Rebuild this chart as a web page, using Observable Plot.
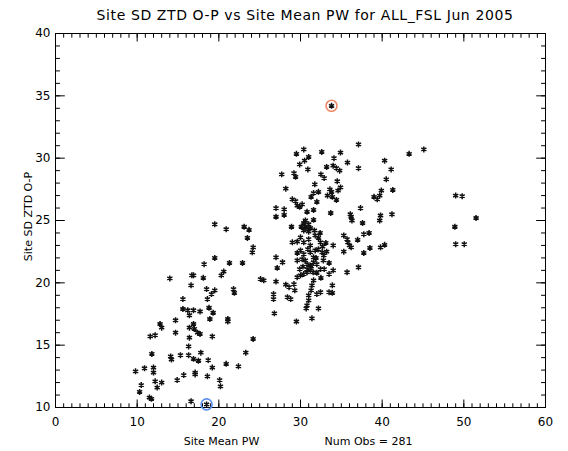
<!DOCTYPE html>
<html><head><meta charset="utf-8">
<script src="https://cdn.jsdelivr.net/npm/d3@7"></script>
<script src="https://cdn.jsdelivr.net/npm/@observablehq/plot@0.6"></script>
<style>
body{margin:0;background:#fff;}
#wrap{width:568px;height:451px;overflow:hidden;}
#title{height:28px;line-height:30px;font-family:"DejaVu Sans",sans-serif;font-size:14px;letter-spacing:0.6px;text-align:center;padding-left:42px;box-sizing:border-box;width:568px;white-space:nowrap;color:#000;}
</style></head>
<body><div id="wrap"><div id="title"></div><div id="chart"></div></div>
<script>
const titleText = "Site SD ZTD O-P vs Site Mean PW for ALL_FSL Jun 2005";
const xLabel = "Site Mean PW";
const yLabel = "Site SD ZTD O-P";
const numObs = 281;
const xTicks = [0, 10, 20, 30, 40, 50, 60];
const yTicks = [10, 15, 20, 25, 30, 35, 40];

// Site Mean PW (x) and Site SD ZTD O-P (y)
const siteMeanPW = [
19.5,20.9,23.1,23.7,23.5,19.5,18.2,21.3,22.9,14.0,16.7,16.9,18.1,20.3,20.6,16.6,18.5,19.5,19.1,21.8,21.9,15.6,18.6,15.6,16.2,16.9,17.7,18.8,19.3,18.9,16.4,14.7,21.1,21.1,12.8,13.0,11.6,12.2,14.7,16.9,16.4,17.0,17.4,17.7,16.4,19.2,24.2,16.3,11.8,14.1,14.2,15.3,16.3,16.9,17.5,17.8,18.7,23.3,9.8,10.9,12.0,12.0,20.9,22.4,17.1,17.1,15.7,14.9,19.2,18.6,12.2,13.0,10.5,10.3,12.45,20.1,20.2,11.5,11.75,16.6,18.5,
33.8,37.1,29.5,30.4,32.6,34.9,31.0,30.5,29.9,34.1,35.75,40.3,34.0,34.4,34.8,33.2,30.9,37.1,41.1,27.7,29.2,29.4,32.5,32.9,34.5,40.5,31.75,28.2,34.9,34.6,33.6,33.8,32.2,31.6,31.3,33.3,33.9,34.4,29.0,39.9,39.7,39.0,39.4,41.3,
43.3,45.1,49.0,49.8,51.5,48.9,49.0,50.05,
29.4,29.6,30.2,29.9,32.0,27.0,28.0,27.0,28.0,30.8,31.6,33.7,37.35,36.1,36.2,36.3,39.8,39.7,41.2,28.9,30.4,30.6,30.9,31.0,30.4,31.6,31.7,37.6,38.4,37.75,29.0,29.6,30.0,30.4,31.0,31.2,32.2,32.45,33.1,32.7,32.2,35.3,35.7,35.8,36.0,36.2,37.0,24.2,24.1,35.3,37.75,38.5,39.8,40.3,30.0,30.4,31.2,31.8,31.6,32.65,32.85,32.8,27.0,27.8,27.15,29.6,30.2,30.6,30.8,31.2,31.6,32.0,32.45,32.9,33.5,34.0,33.5,37.1,35.7,25.1,25.5,27.0,29.6,30.0,30.4,30.8,31.2,31.55,32.0,28.2,28.6,29.2,29.3,31.6,32.5,31.4,31.3,32.0,32.45,33.9,33.5,33.9,26.7,26.7,28.4,28.8,31.0,31.0,30.8,30.7,32.2,26.8,29.5,31.4,
30.6,31.0,31.2,30.1,30.3,30.8,29.9,31.3,31.9,30.9,33.2,34.0,29.6,32.4,31.8
];
const siteSdZtd = [
24.7,24.3,24.5,24.25,23.6,22.0,21.5,21.6,21.6,20.35,20.6,20.6,20.4,20.6,20.9,19.8,19.5,19.4,19.1,19.5,19.2,18.7,18.7,17.9,17.8,17.8,17.7,18.0,17.6,17.1,17.4,17.0,17.1,16.9,16.7,16.4,15.7,15.8,16.0,16.7,16.4,16.3,16.0,15.9,15.6,15.7,15.5,14.9,14.3,14.1,13.85,14.2,14.2,13.9,13.75,14.4,13.8,14.4,12.9,13.15,13.2,12.8,13.5,13.3,12.8,12.65,12.6,12.2,13.2,12.5,12.1,12.0,11.8,11.25,11.6,12.2,11.7,10.8,10.7,10.5,10.25,
34.2,31.1,30.35,30.7,30.5,30.45,30.1,29.8,29.5,30.0,29.65,29.8,29.4,29.2,29.0,29.3,29.1,29.2,29.1,28.7,28.8,28.5,28.7,28.4,28.15,28.3,27.9,27.55,27.65,27.4,27.5,27.3,27.3,27.2,26.9,27.0,26.9,26.65,26.7,27.4,27.0,26.9,26.7,27.45,
30.35,30.7,27.0,26.95,25.2,24.5,23.1,23.1,
26.55,26.2,26.3,26.1,26.5,26.0,25.9,25.3,25.45,25.7,25.85,25.6,26.0,25.5,25.3,25.0,25.4,25.0,25.5,24.5,24.8,24.5,24.3,24.1,24.2,25.05,24.2,24.8,24.0,23.9,23.25,23.3,23.65,23.25,23.5,23.0,23.6,23.25,23.2,22.9,22.7,23.8,23.5,23.25,23.0,22.85,23.45,22.85,22.45,22.5,22.4,22.8,22.85,23.05,22.6,22.3,22.45,22.6,22.05,22.45,22.2,21.8,22.05,21.65,21.2,21.8,21.9,21.8,21.5,21.4,21.65,21.5,21.1,21.1,21.6,21.0,20.7,21.25,20.85,20.3,20.2,20.1,20.45,20.6,20.7,20.85,21.0,20.85,20.8,19.85,19.65,19.9,19.4,20.2,20.4,19.8,19.4,19.1,19.25,19.8,19.25,19.2,19.1,18.7,18.85,18.7,19.0,18.6,18.2,17.95,17.95,17.55,16.9,17.15,
25.0,24.7,24.4,24.5,21.3,21.1,21.1,21.3,22.0,22.7,22.5,23.0,22.4,24.0,23.8
];
// highlighted sites (max and min)
const maxSiteX = [33.8], maxSiteY = [34.2];
const minSiteX = [18.5], minSiteY = [10.25];

const points = siteMeanPW.map((x, i) => ({x, y: siteSdZtd[i]}));
const maxPts = maxSiteX.map((x, i) => ({x, y: maxSiteY[i]}));
const minPts = minSiteX.map((x, i) => ({x, y: minSiteY[i]}));

document.getElementById("title").textContent = titleText;

const blank = () => "";
const chart = Plot.plot({
  width: 568, height: 423,
  marginTop: 5, marginBottom: 44, marginLeft: 55, marginRight: 23,
  x: {domain: [0, 60]},
  y: {domain: [10, 40]},
  style: {fontFamily: "DejaVu Sans, sans-serif", fontSize: "12px", background: "white", color: "black", overflow: "visible"},
  marks: [
    Plot.frame({stroke: "black", strokeWidth: 1}),
    // minor ticks
    Plot.axisX(d3.range(0, 61, 1), {anchor: "bottom", tickSize: -3.7, tickFormat: blank, label: null}),
    Plot.axisX(d3.range(0, 61, 1), {anchor: "top", tickSize: -3.7, tickFormat: blank, label: null}),
    Plot.axisY(d3.range(10, 41, 1), {anchor: "left", tickSize: -4.9, tickFormat: blank, label: null}),
    Plot.axisY(d3.range(10, 41, 1), {anchor: "right", tickSize: -4.9, tickFormat: blank, label: null}),
    // major ticks
    Plot.axisX(xTicks, {anchor: "bottom", tickSize: -7.5, tickFormat: blank, label: null}),
    Plot.axisX(xTicks, {anchor: "top", tickSize: -7.5, tickFormat: blank, label: null}),
    Plot.axisY(yTicks, {anchor: "left", tickSize: -9.8, tickFormat: blank, label: null}),
    Plot.axisY(yTicks, {anchor: "right", tickSize: -9.8, tickFormat: blank, label: null}),
    // tick labels
    Plot.axisX(xTicks, {anchor: "bottom", tickSize: 0, tickPadding: 10, label: null, tickFormat: d => String(d)}),
    Plot.axisY(yTicks, {anchor: "left", tickSize: 0, tickPadding: 5, label: null, tickFormat: d => String(d)}),
    // points
    Plot.dot(points, {x: "x", y: "y", symbol: "asterisk", r: 2.8, stroke: "#111", strokeWidth: 1.5}),
    Plot.dot(maxPts, {x: "x", y: "y", r: 5.5, stroke: "#ee8866", strokeWidth: 1.6, fill: "none"}),
    Plot.dot(minPts, {x: "x", y: "y", r: 5.5, stroke: "#5b8ff0", strokeWidth: 1.6, fill: "none"}),
    // axis titles
    Plot.text([xLabel], {frameAnchor: "bottom-left", dx: 166, dy: 34, text: d => d, textAnchor: "middle", lineAnchor: "middle", fontSize: 11, fill: "black"}),
    Plot.text([`Num Obs = ${numObs}`], {frameAnchor: "bottom-left", dx: 313, dy: 34, text: d => d, textAnchor: "middle", lineAnchor: "middle", fontSize: 11, fill: "black"}),
    Plot.text([yLabel], {frameAnchor: "left", dx: -27, dy: -4, rotate: -90, text: d => d, textAnchor: "middle", lineAnchor: "middle", fontSize: 11, fill: "black"})
  ]
});
document.getElementById("chart").appendChild(chart);
</script>
</body></html>
